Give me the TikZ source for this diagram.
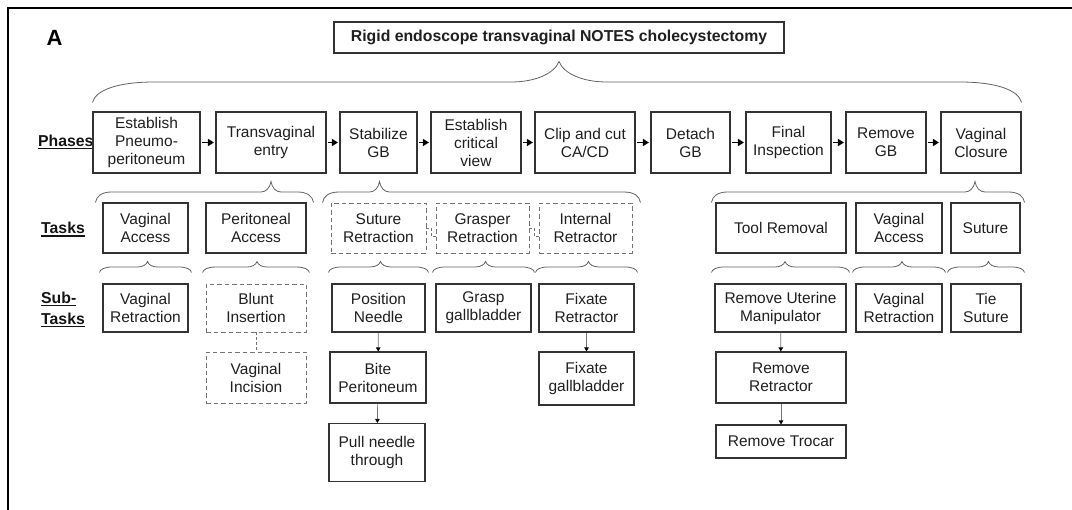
\documentclass[tikz,border=0pt]{standalone}
\usepackage{fontspec}
\setmainfont{Liberation Sans}
\usetikzlibrary{arrows.meta,calc}

\newsavebox\ulbox
\newcommand\ulab[1]{\sbox\ulbox{#1}\rlap{\rule[-2.8pt]{\wd\ulbox}{1.3pt}}\usebox\ulbox}

% curly brace from a parent node down to a group of child nodes
% #1 left child, #2 right child, #3 parent, #4 overhang, #5 end lift,
% #6 end curve width, #7 tip curve width, #8 tip shift
\newcommand\brc[8]{%
  \draw[bracel] let \p1=(#1.north west), \p2=(#2.north east), \p3=(#3.south),
    \n1={\y1+#5pt}, \n2={\y3-8pt}, \n3={0.5*(\n1+\n2)},
    \n4={\x1-#4pt}, \n5={\x2+#4pt}, \n6={#6pt}, \n7={#7pt}, \n8={\x3+#8pt}
  in (\n4,\n1) .. controls ({\n4+0.05*\n6},{\n1+0.6*(\n3-\n1)}) and ({\n4+0.4*\n6},\n3) .. ({\n4+\n6},\n3)
  -- ({\n8-\n7},\n3) .. controls ({\n8-0.5*\n7},\n3) and ({\n8-0.1*\n7},{\n3+0.4*(\n2-\n3)}) .. (\n8,\n2)
  .. controls ({\n8+0.1*\n7},{\n3+0.4*(\n2-\n3)}) and ({\n8+0.5*\n7},\n3) .. ({\n8+\n7},\n3)
  -- ({\n5-\n6},\n3) .. controls ({\n5-0.4*\n6},\n3) and ({\n5-0.05*\n6},{\n1+0.6*(\n3-\n1)}) .. (\n5,\n1);
}

\tikzset{
  txt/.style={font=\fontsize{15.5}{18}\selectfont, text=black!88},
  box/.style={txt, draw=black!80, line width=1.05pt, align=center, inner sep=0pt},
  dbox/.style={box, draw=black!55, line width=0.9pt, dash pattern=on 4.5pt off 3pt},
  lab/.style={anchor=west, align=left, inner sep=0pt, text=black!92,
              font=\bfseries\fontsize{15.8}{21}\selectfont},
  phasearrow/.style={-{Triangle[length=6pt,width=7pt]}, line width=1.6pt, black,
                     shorten >=1.5pt, shorten <=1.5pt},
  subarrow/.style={-{Triangle[length=4pt,width=4.5pt,color=black]}, line width=0.7pt, black!55},
  dconn/.style={line width=0.7pt, black!55, dash pattern=on 3pt off 2pt},
  bracel/.style={line width=0.8pt, black!62},
}

\begin{document}
\begin{tikzpicture}[x=1pt, y=-1pt]
\useasboundingbox (0,0) rectangle (1072,510);

% panel frame
\draw[line width=2.6pt, black] (8,510) -- (8,8) -- (1072,8);

\node[inner sep=0pt, font=\bfseries\fontsize{22}{22}\selectfont] (panel) at (54.5,38) {A};
\node[box, minimum width=450, minimum height=31,
      font=\bfseries\fontsize{15.8}{18}\selectfont] (T) at (559,37.5)
      {Rigid endoscope transvaginal NOTES cholecystectomy};

% row labels
\node[lab] (lphase) at (38,142) {\ulab{Phases}};
\node[lab] (ltask) at (41,229.5) {\ulab{Tasks}};
\node[lab] (lsub) at (41,309.5) {\ulab{Sub-}\\\ulab{Tasks}};

% phases
\node[box, minimum width=107, minimum height=61] (B1) at (146.5,142.5) {Establish\\Pneumo-\\peritoneum};
\node[box, minimum width=110, minimum height=61] (B2) at (271,142.5) {Transvaginal\\entry};
\node[box, minimum width=77,  minimum height=61] (B3) at (378.5,142.5) {Stabilize\\GB};
\node[box, minimum width=90,  minimum height=61] (B4) at (476,142.5) {Establish\\critical\\view};
\node[box, minimum width=100, minimum height=61] (B5) at (585,142.5) {Clip and cut\\CA/CD};
\node[box, minimum width=79,  minimum height=61] (B6) at (690.5,142.5) {Detach\\GB};
\node[box, minimum width=85,  minimum height=61] (B7) at (788.5,142.5) {Final\\Inspection};
\node[box, minimum width=80,  minimum height=61] (B8) at (886,142.5) {Remove\\GB};
\node[box, minimum width=80,  minimum height=61] (B9) at (981,142.5) {Vaginal\\Closure};

\foreach \a/\b in {B1/B2,B2/B3,B3/B4,B4/B5,B5/B6,B6/B7,B7/B8,B8/B9}
  \draw[phasearrow] (\a.east) -- (\b.west);

% tasks
\node[box,  minimum width=85,  minimum height=50] (VA1) at (145.5,228) {Vaginal\\Access};
\node[box,  minimum width=100, minimum height=50] (PA)  at (256,228) {Peritoneal\\Access};
\node[dbox, minimum width=95,  minimum height=50] (SR)  at (378.5,228) {Suture\\Retraction};
\node[dbox, minimum width=93,  minimum height=50] (GR)  at (482.5,228) {Grasper\\Retraction};
\node[dbox, minimum width=93,  minimum height=50] (IR)  at (585.5,228) {Internal\\Retractor};
\node[box,  minimum width=130, minimum height=50] (TR)  at (781,228) {Tool Removal};
\node[box,  minimum width=86,  minimum height=50] (VA2) at (899,228) {Vaginal\\Access};
\node[box,  minimum width=69,  minimum height=50] (SU)  at (985.5,228) {Suture};

\draw[dconn] (SR.east) -- ++(5,0) |- ([yshift=-8pt]GR.west);
\draw[dconn] (GR.east) -- ++(5,0) |- ([yshift=-8pt]IR.west);

% sub-tasks
\node[box,  minimum width=85,  minimum height=48] (VR1) at (145.5,308) {Vaginal\\Retraction};
\node[dbox, minimum width=100, minimum height=48] (BI)  at (256,308) {Blunt\\Insertion};
\node[box,  minimum width=93,  minimum height=48] (PN)  at (378.5,308) {Position\\Needle};
\node[box,  minimum width=95,  minimum height=48] (GG)  at (483.5,308) {Grasp\\gallbladder};
\node[box,  minimum width=95,  minimum height=48] (FR)  at (586.5,308) {Fixate\\Retractor};
\node[box,  minimum width=131, minimum height=48] (RUM) at (780.5,308) {Remove Uterine\\Manipulator};
\node[box,  minimum width=86,  minimum height=48] (VR2) at (899,308) {Vaginal\\Retraction};
\node[box,  minimum width=70,  minimum height=48] (TS)  at (986,308) {Tie\\Suture};

\node[dbox, minimum width=100, minimum height=51] (VI)  at (256,377.5) {Vaginal\\Incision};
\node[box,  minimum width=96,  minimum height=51] (BP)  at (378,377.5) {Bite\\Peritoneum};
\node[box,  minimum width=95,  minimum height=53] (FG)  at (586.5,378.5) {Fixate\\gallbladder};
\node[box,  minimum width=130, minimum height=51] (RR)  at (781,377.5) {Remove\\Retractor};
\node[box,  minimum width=96,  minimum height=58] (PNT) at (377,452.5) {Pull needle\\through};
\node[box,  minimum width=130, minimum height=33] (RT)  at (781,441.5) {Remove Trocar};

\draw[dconn] (BI) -- (VI);
\draw[subarrow] (PN) -- (BP);
\draw[subarrow] (BP) -- (PNT);
\draw[subarrow] (FR) -- (FG);
\draw[subarrow] (RUM) -- (RR);
\draw[subarrow] (RR) -- (RT);

% braces
\brc{B1}{B9}{T}{0}{9}{62}{48}{0}
\brc{VA1}{PA}{B2}{7}{0}{16}{10}{0}
\brc{SR}{IR}{B3}{8}{0}{16}{10}{1}
\brc{TR}{SU}{B9}{4}{0}{16}{10}{-6}
\brc{VR1}{VR1}{VA1}{3}{11}{13}{10}{2}
\brc{BI}{BI}{PA}{3}{11}{13}{10}{1}
\brc{PN}{PN}{SR}{3}{11}{13}{10}{2}
\brc{GG}{GG}{GR}{3}{11}{13}{10}{3}
\brc{FR}{FR}{IR}{3}{11}{13}{10}{3}
\brc{RUM}{RUM}{TR}{3}{11}{13}{10}{4}
\brc{VR2}{VR2}{VA2}{3}{11}{13}{10}{3}
\brc{TS}{TS}{SU}{3}{11}{13}{10}{3}
\end{tikzpicture}
\end{document}
